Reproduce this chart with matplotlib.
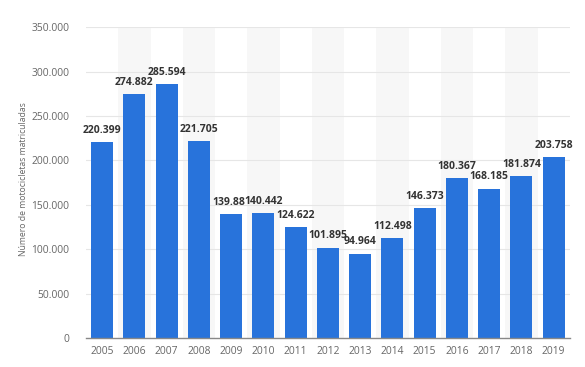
import matplotlib
matplotlib.use("Agg")
import matplotlib.pyplot as plt
from matplotlib.ticker import FuncFormatter

years = ["2005", "2006", "2007", "2008", "2009", "2010", "2011", "2012",
         "2013", "2014", "2015", "2016", "2017", "2018", "2019"]
values = [220399, 274882, 285594, 221705, 139881, 140442, 124622, 101895,
          94964, 112498, 146373, 180367, 168185, 181874, 203758]
value_labels = ["220.399", "274.882", "285.594", "221.705", "139.88", "140.442",
                "124.622", "101.895", "94.964", "112.498", "146.373", "180.367",
                "168.185", "181.874", "203.758"]
y_ticks = [0, 50000, 100000, 150000, 200000, 250000, 300000, 350000]
y_label = "Número de motocicletas matriculadas"

plt.rcParams['font.family'] = ['Open Sans', 'DejaVu Sans']

fig = plt.figure(figsize=(5.85, 3.67), dpi=100)
ax = fig.add_axes([0.147, 0.079, 0.827, 0.847])

x = list(range(len(years)))
# alternating stripes
for i in x:
    if i % 2 == 1:
        ax.axvspan(i - 0.5, i + 0.5, color="#f7f7f7", zorder=0, lw=0)

for t in y_ticks[1:]:
    ax.axhline(t, color="#e6e6e6", lw=0.8, zorder=1)

ax.bar(x, values, width=0.68, color="#2873db", zorder=2)

for i, (v, lab) in enumerate(zip(values, value_labels)):
    dx = -1.5 if lab == "139.88" else 0
    ax.annotate(lab, (i, v), xytext=(dx, 4.5), textcoords="offset points",
                ha="center", va="bottom", fontsize=7.5,
                fontweight="bold", color="#333333", zorder=3)

ax.set_xlim(-0.5, len(years) - 0.5)
ax.set_ylim(0, 350000)
ax.set_xticks(x)
ax.set_xticklabels(years)
ax.set_yticks(y_ticks)
ax.yaxis.set_major_formatter(FuncFormatter(lambda v, p: f"{int(v):,}".replace(",", ".")))
ax.tick_params(axis="both", length=0, labelsize=7.4, colors="#666666")
ax.tick_params(axis="y", pad=12)
ax.tick_params(axis="x", pad=6)

for s in ["top", "right", "left"]:
    ax.spines[s].set_visible(False)
ax.spines["bottom"].set_color("#888888")
ax.spines["bottom"].set_linewidth(1.0)

fig.text(24 / 585, 1 - 179 / 367, y_label, rotation=90, ha="center", va="center",
         fontsize=6.2, color="#666666")

fig.savefig("out.png", dpi=100)
